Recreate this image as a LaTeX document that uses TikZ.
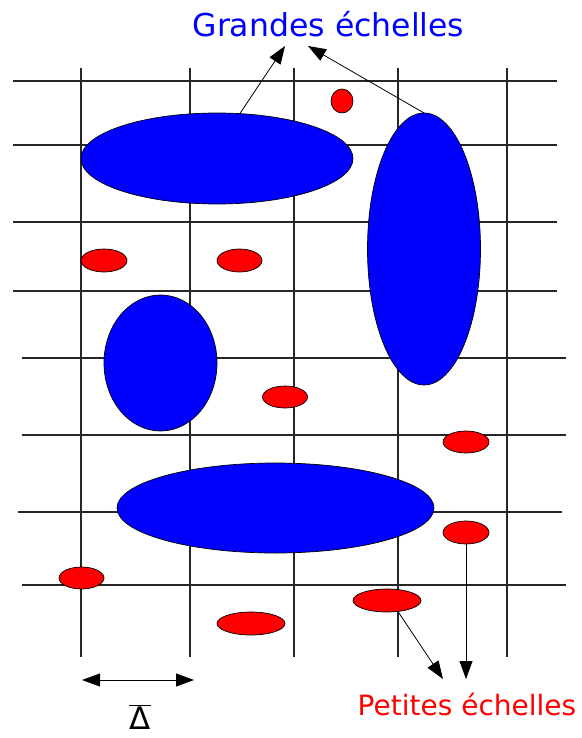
\documentclass[tikz,border=0pt]{standalone}
\usepackage{fontspec}
\setmainfont{DejaVu Sans}
\usetikzlibrary{shapes.geometric,arrows.meta}
\begin{document}
\begin{tikzpicture}[x=1pt,y=-1pt,
  >={Triangle[length=18pt,width=13pt]},
  gridline/.style={line width=1.1pt,draw=black!85},
  blob/.style={ellipse,draw=black,line width=0.7pt,inner sep=0pt,outer sep=0pt},
  bigblob/.style={blob,fill=blue},
  smallblob/.style={blob,fill=red},
  pointer/.style={line width=0.8pt,->},
  span/.style={line width=0.8pt,<->},
]
\useasboundingbox (0,0) rectangle (581,738);

% grid
\foreach \yy/\aa/\bb in {81/13/557,145/13/557,222/13/557,291/13/557,358/22/566,435/22/566,512/18/562,585/22/566}
  \draw[gridline] (\aa,\yy) -- (\bb,\yy);
\foreach \xx in {81,190,294,398,507}
  \draw[gridline] (\xx,68) -- (\xx,657);

% large scales
\node[bigblob,minimum width=272pt,minimum height=91pt] (b1) at (217,158.5) {};
\node[bigblob,minimum width=113pt,minimum height=272pt] (b2) at (424,249) {};
\node[bigblob,minimum width=113pt,minimum height=136pt] (b3) at (160.5,363) {};
\node[bigblob,minimum width=317pt,minimum height=90pt] (b4) at (275.5,508) {};

% small scales
\node[smallblob,minimum width=22pt,minimum height=24pt] (r1) at (342,101) {};
\node[smallblob,minimum width=46pt,minimum height=23pt] (r2) at (104,260.5) {};
\node[smallblob,minimum width=45pt,minimum height=23pt] (r3) at (239.5,260.5) {};
\node[smallblob,minimum width=45pt,minimum height=22pt] (r4) at (285,397) {};
\node[smallblob,minimum width=46pt,minimum height=22pt] (r5) at (466,442) {};
\node[smallblob,minimum width=46pt,minimum height=23pt] (r6) at (466,532.5) {};
\node[smallblob,minimum width=45pt,minimum height=22pt] (r7) at (81.5,578) {};
\node[smallblob,minimum width=68pt,minimum height=23pt] (r8) at (251,623.5) {};
\node[smallblob,minimum width=68pt,minimum height=23pt] (r9) at (387,600.5) {};

% labels
\node[text=blue,font=\fontsize{31.5}{36}\selectfont,anchor=base,inner sep=0pt] (grandes) at (328.5,37) {Grandes échelles};
\node[text=red,font=\fontsize{28}{32}\selectfont,anchor=base,inner sep=0pt] (petites) at (467,715) {Petites échelles};
\node[font=\fontsize{31}{36}\selectfont,anchor=base,inner sep=0pt] (delta) at (140,729) {$\overline{\hbox{Δ}}$};

% arrow end points
\coordinate (g1) at (285,46);
\coordinate (g2) at (308,46);
\coordinate (p1) at (443,679);
\coordinate (p2) at (466,679);
\coordinate (d1) at (82,680);
\coordinate (d2) at (194,680);

\draw[pointer] (b1.63) -- (g1);
\draw[pointer] (b2.north) -- (g2);
\draw[pointer] (r9.-45) -- (p1);
\draw[pointer] (r6.south) -- (p2);
\draw[span] (d1) -- (d2);
\end{tikzpicture}
\end{document}
